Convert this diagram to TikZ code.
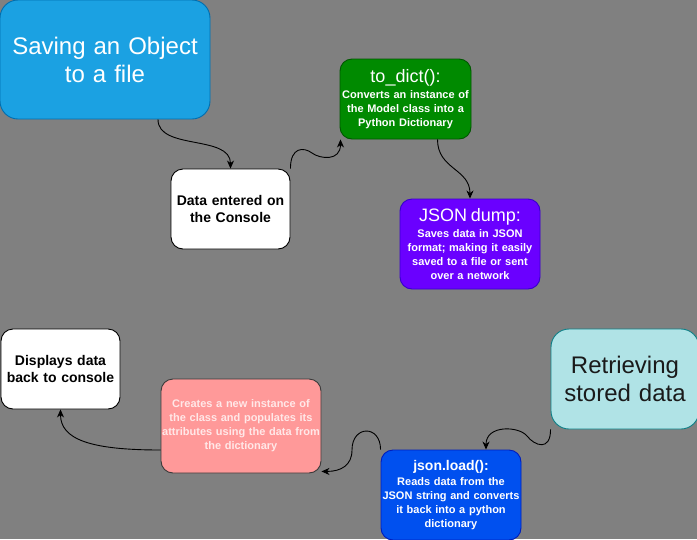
\documentclass[tikz,border=0pt]{standalone}
\usepackage{fontspec}
\setmainfont{Liberation Sans}
\usetikzlibrary{arrows.meta}
\definecolor{bgc}{HTML}{808080}
\definecolor{saveblue}{HTML}{1BA1E2}
\definecolor{saveline}{HTML}{006EAF}
\definecolor{dictgreen}{HTML}{008A00}
\definecolor{dictline}{HTML}{005700}
\definecolor{dumppurple}{HTML}{6A00FF}
\definecolor{dumpline}{HTML}{3700CC}
\definecolor{pinkfill}{HTML}{FF9999}
\definecolor{pinkline}{HTML}{3A3A3A}
\definecolor{pinktext}{HTML}{FFE8E8}
\definecolor{cyanfill}{HTML}{B0E3E6}
\definecolor{cyanline}{HTML}{0E8088}
\definecolor{loadblue}{HTML}{0050EF}
\definecolor{loadline}{HTML}{001DBC}
\definecolor{darktext}{HTML}{1A1A1A}
\begin{document}
\begin{tikzpicture}[x=1pt,y=-1pt,
  box/.style={draw, line width=0.9pt, rounded corners=12pt, inner sep=0pt, align=center},
  bigbox/.style={box, rounded corners=18pt, font=\fontsize{24}{28}\selectfont},
  bodyfont/.style={font=\fontsize{11}{14}\selectfont\bfseries},
  conn/.style={line width=0.9pt, -{Stealth[length=8pt,width=7pt,inset=2.5pt]}}
]
\fill[bgc] (0,0) rectangle (697,539);
\useasboundingbox (0,0) rectangle (697,539);

\node[bigbox, fill=saveblue, draw=saveline, text=white, text width=210pt, minimum height=119pt] (save) at (105,59.5)
  {Saving an Object\\to a file};

\node[box, fill=white, draw=black, text=black, text width=119pt, minimum height=80pt,
  font=\fontsize{14}{17}\selectfont\bfseries] (data) at (230.5,209)
  {Data entered on\\the Console};

\node[box, fill=dictgreen, draw=dictline, text=white, text width=131pt, minimum height=80pt, bodyfont] (todict) at (405.5,99)
  {{\fontsize{18}{20}\selectfont\mdseries to\_dict():\par}\vspace{2pt}Converts an instance of\\the Model class into a\\Python Dictionary};

\node[box, fill=dumppurple, draw=dumpline, text=white, text width=140pt, minimum height=90pt, bodyfont] (dump) at (470,244)
  {{\fontsize{18}{20}\selectfont\mdseries JSON dump:\par}\vspace{2pt}Saves data in JSON\\format; making it easily\\saved to a file or sent\\over a network};

\node[box, fill=white, draw=black, text=black, text width=119pt, minimum height=80pt,
  font=\fontsize{14}{17}\selectfont\bfseries] (disp) at (60.5,369)
  {Displays data\\back to console};

\node[box, fill=pinkfill, draw=pinkline, text=pinktext, text width=160pt, minimum height=94pt, bodyfont] (pink) at (241,426)
  {Creates a new instance of\\the class and populates its\\attributes using the data from\\the dictionary};

\node[bigbox, fill=cyanfill, draw=cyanline, text=darktext, text width=148pt, minimum height=100pt] (retr) at (625,379)
  {Retrieving\\stored data};

\node[box, fill=loadblue, draw=loadline, text=white, text width=140pt, minimum height=90pt, bodyfont] (load) at (451,495)
  {{\fontsize{14}{16}\selectfont json.load():\par}\vspace{1pt}Reads data from the\\JSON string and converts\\it back into a python\\dictionary};

% connectors
\draw[conn] ([xshift=53pt]save.south) .. controls +(0,31) and +(0,-34) .. (data.north);
\draw[conn] (data.north east) .. controls +(0,-22) and +(-8,-6) .. (312,153)
  .. controls +(8,6) and +(0,22) .. ([xshift=-65pt]todict.south);
\draw[conn] ([xshift=32pt]todict.south) .. controls +(0,30) and +(0,-30) .. (dump.north);
\draw[conn] (retr.south west) .. controls +(0,22) and +(8,10) .. (527,436)
  .. controls +(-8,-10) and +(0,-25) .. ([xshift=35pt]load.north);
\draw[conn] (load.north west) .. controls +(0,-25) and +(0,-25) .. (352,450)
  .. controls +(0,15) and +(20,0) .. ([yshift=2pt]pink.south east);
\draw[conn] ([yshift=-24pt]pink.west) .. controls +(-70,0) and +(0,30) .. (disp.south);
\end{tikzpicture}
\end{document}
